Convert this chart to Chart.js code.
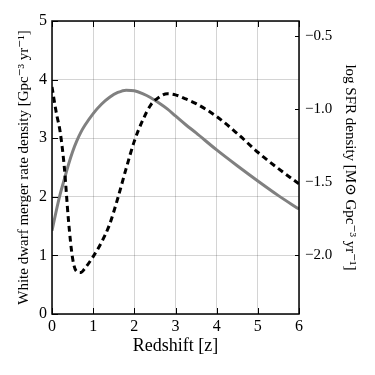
<!DOCTYPE html>
<html>
<head>
<meta charset="utf-8">
<script src="https://cdn.jsdelivr.net/npm/chart.js@4/dist/chart.umd.min.js"></script>
<style>
  html, body { margin: 0; padding: 0; background: #fff; }
  #chart { display: block; }
</style>
</head>
<body>
<canvas id="chart" width="375" height="375"></canvas>
<script>
// redshift samples and the two curves
const redshift = [0, 0.1, 0.2, 0.3, 0.4, 0.5, 0.6, 0.7, 0.8, 1.0, 1.2, 1.4, 1.6, 1.8, 2.0,
                  2.2, 2.4, 2.6, 2.8, 3.0, 3.25, 3.5, 4.0, 4.5, 5.0, 5.5, 6.0];
// white dwarf merger rate density [Gpc^-3 yr^-1] (left axis)
const wdMergerRate = [1.42, 1.75, 2.05, 2.3, 2.55, 2.77, 2.95, 3.1, 3.22, 3.42, 3.58, 3.7, 3.78, 3.82, 3.81,
                      3.76, 3.69, 3.6, 3.5, 3.38, 3.23, 3.09, 2.8, 2.53, 2.27, 2.02, 1.79];
// log SFR density [Msun Gpc^-3 yr^-1] (right axis)
const logSfrDensity = [-0.85, -1.02, -1.16, -1.40, -1.76, -2.02, -2.11, -2.116, -2.088, -2.008, -1.912, -1.788, -1.608, -1.408, -1.22,
                       -1.08, -0.972, -0.92, -0.896, -0.904, -0.932, -0.964, -1.052, -1.168, -1.296, -1.408, -1.512];

const xTicks = [0, 1, 2, 3, 4, 5, 6];
const leftTicks = [0, 1, 2, 3, 4, 5];
const rightTicks = [-2.0, -1.5, -1.0, -0.5];

const serif = '"Liberation Serif", "DejaVu Serif", serif';

// frame around the plot plus inward tick marks (matplotlib style)
const framePlugin = {
    id: 'frame',
    afterDraw(chart) {
        const ctx = chart.ctx;
        const a = chart.chartArea;
        const sx = chart.scales.x, sy = chart.scales.y, sy2 = chart.scales.y2;
        ctx.save();
        ctx.strokeStyle = '#000';
        ctx.lineWidth = 1;
        xTicks.forEach(v => {
            const px = Math.round(sx.getPixelForValue(v)) + 0.5;
            ctx.beginPath();
            ctx.moveTo(px, a.bottom); ctx.lineTo(px, a.bottom - 6);
            ctx.moveTo(px, a.top); ctx.lineTo(px, a.top + 6);
            ctx.stroke();
        });
        leftTicks.forEach(v => {
            const py = Math.round(sy.getPixelForValue(v)) + 0.5;
            ctx.beginPath();
            ctx.moveTo(a.left, py); ctx.lineTo(a.left + 6, py);
            ctx.stroke();
        });
        rightTicks.forEach(v => {
            const py = Math.round(sy2.getPixelForValue(v)) + 0.5;
            ctx.beginPath();
            ctx.moveTo(a.right, py); ctx.lineTo(a.right - 4, py);
            ctx.stroke();
        });
        ctx.lineWidth = 1.5;
        ctx.strokeRect(a.left, a.top, a.right - a.left, a.bottom - a.top);
        ctx.restore();
    }
};

const ctx = document.getElementById('chart').getContext('2d');
new Chart(ctx, {
    type: 'line',
    data: {
        datasets: [{
            label: 'White dwarf merger rate density',
            data: redshift.map((z, i) => ({ x: z, y: wdMergerRate[i] })),
            yAxisID: 'y',
            borderColor: '#808080',
            borderWidth: 3,
            pointRadius: 0,
            cubicInterpolationMode: 'monotone',
            order: 2
        }, {
            label: 'log SFR density',
            data: redshift.map((z, i) => ({ x: z, y: logSfrDensity[i] })),
            yAxisID: 'y2',
            borderColor: '#000',
            borderWidth: 3,
            borderDash: [6, 4],
            pointRadius: 0,
            cubicInterpolationMode: 'monotone',
            order: 1
        }]
    },
    options: {
        responsive: false,
        devicePixelRatio: 1,
        animation: false,
        layout: { padding: { top: 21, left: 0, right: 0, bottom: 0 } },
        plugins: { legend: { display: false }, tooltip: { enabled: false } },
        scales: {
            x: {
                type: 'linear',
                min: 0, max: 6,
                afterBuildTicks: s => { s.ticks = xTicks.map(v => ({ value: v })); },
                afterFit: s => { s.height = 61; },
                grid: { color: 'rgba(0,0,0,0.17)', drawTicks: false },
                border: { display: false },
                ticks: { color: '#000', padding: 3, font: { family: serif, size: 16 } },
                title: {
                    display: true, text: 'Redshift [z]', color: '#000',
                    font: { family: serif, size: 18 }, padding: { top: 18, bottom: 18 }
                }
            },
            y: {
                position: 'left',
                min: 0, max: 5,
                afterBuildTicks: s => { s.ticks = leftTicks.map(v => ({ value: v })); },
                afterFit: s => { s.width = 52; },
                grid: { color: 'rgba(0,0,0,0.17)', drawTicks: false },
                border: { display: false },
                ticks: { color: '#000', padding: 5, font: { family: serif, size: 16 } },
                title: {
                    display: true, text: 'White dwarf merger rate density [Gpc⁻³ yr⁻¹]', color: '#000',
                    font: { family: serif, size: 15 }, padding: { top: 15, bottom: 0 }
                }
            },
            y2: {
                position: 'right',
                min: -2.4, max: -0.4,
                afterBuildTicks: s => { s.ticks = rightTicks.map(v => ({ value: v })); },
                afterFit: s => { s.width = 76; },
                grid: { display: false, drawTicks: false },
                border: { display: false },
                ticks: {
                    color: '#000', padding: 6, font: { family: serif, size: 15 },
                    callback: v => '−' + Math.abs(v).toFixed(1)
                },
                title: {
                    display: true, text: 'log SFR density [M⊙ Gpc⁻³ yr⁻¹]', color: '#000',
                    font: { family: serif, size: 15 }, padding: { top: 16, bottom: 0 }
                }
            }
        }
    },
    plugins: [framePlugin]
});
</script>
</body>
</html>
